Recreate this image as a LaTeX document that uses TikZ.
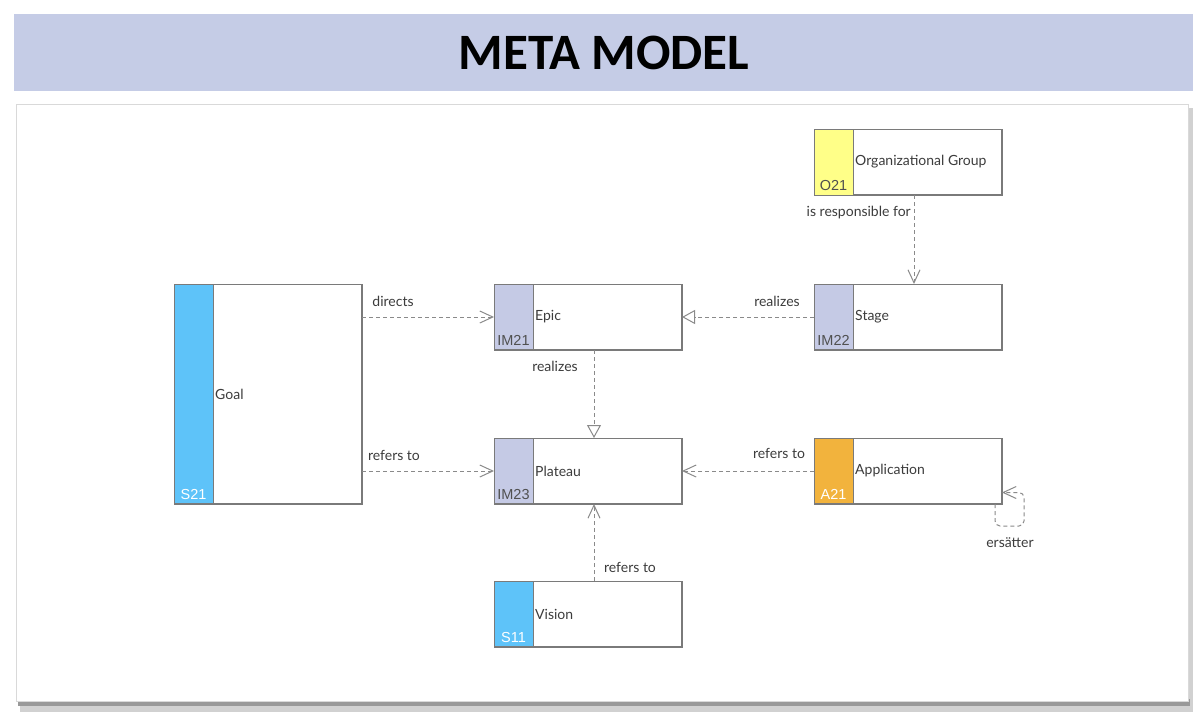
\documentclass[tikz,border=0pt]{standalone}
\usepackage{fontspec}
\setmainfont{Lato}
\newfontfamily\titlefont{Carlito}
\newfontfamily\codefont{Liberation Sans}
\usetikzlibrary{arrows.meta,calc}
\definecolor{band}{HTML}{C5CCE6}
\definecolor{imstrip}{HTML}{C5CAE5}
\definecolor{sblue}{HTML}{5EC3F9}
\definecolor{oyellow}{HTML}{FFFF88}
\definecolor{aorange}{HTML}{F2B33D}
\definecolor{edge}{HTML}{7A7A7A}
\definecolor{conn}{HTML}{8A8A8A}
\definecolor{txt}{HTML}{3C3C3C}
\tikzset{
  box/.style={draw=edge, line width=1pt, fill=white, anchor=north west, minimum width=187pt, minimum height=65pt, inner sep=0pt},
  lbl/.style={font=\fontsize{14}{16}\selectfont, text=txt, inner sep=0pt},
  code/.style={font=\codefont\fontsize{14.5}{16}\selectfont, inner sep=0pt, anchor=south},
  dep/.style={draw=conn, line width=1pt, dash pattern=on 4pt off 3pt},
  vtip/.style={-{Straight Barb[length=13pt, width=12pt, line width=1pt]}},
  ttip/.style={-{Triangle[open, length=13pt, width=14pt, line width=1pt, fill=white]}},
}
\begin{document}
\begin{tikzpicture}[x=1pt, y=-1pt]
\useasboundingbox (0,0) rectangle (1200,721);
\fill[white] (0,0) rectangle (1200,721);
% title band
\fill[band] (14,14) rectangle (1193,91);
\node[font=\titlefont\bfseries\fontsize{51}{56}\selectfont, inner sep=0pt] (title) at (604,53) {META MODEL};
% panel with shadow
\fill[black!18] (20,108) rectangle (1193,712);
\fill[black!40] (18,699) rectangle (1190,706);
\filldraw[fill=white, draw=black!15] (16,104) rectangle (1188,701);

% boxes
\node[box] (org) at (814,129) {};
\fill[oyellow] (org.north west) rectangle ++(39,66);
\draw[edge, line width=1pt] (org.north west) rectangle ++(39,66);
\draw[edge, line width=1pt] (org.north west) rectangle (org.south east);
\node[code, text=txt!90] at ($(org.south west)+(19.5,-4)$) {O21};
\node[lbl, anchor=west] at ($(org.west)+(41,0)$) {Organizational Group};

\node[box] (epic) at (494,284) {};
\fill[imstrip] (epic.north west) rectangle ++(39,65);
\draw[edge, line width=1pt] (epic.north west) rectangle ++(39,65);
\draw[edge, line width=1pt] (epic.north west) rectangle (epic.south east);
\node[code, text=txt!90] at ($(epic.south west)+(19.5,-4)$) {IM21};
\node[lbl, anchor=west] at ($(epic.west)+(41,0)$) {Epic};

\node[box] (stage) at (814,284) {};
\fill[imstrip] (stage.north west) rectangle ++(39,65);
\draw[edge, line width=1pt] (stage.north west) rectangle ++(39,65);
\draw[edge, line width=1pt] (stage.north west) rectangle (stage.south east);
\node[code, text=txt!90] at ($(stage.south west)+(19.5,-4)$) {IM22};
\node[lbl, anchor=west] at ($(stage.west)+(41,0)$) {Stage};

\node[box, minimum height=219pt] (goal) at (174,284) {};
\fill[sblue] (goal.north west) rectangle ++(39,219);
\draw[edge, line width=1pt] (goal.north west) rectangle ++(39,219);
\draw[edge, line width=1pt] (goal.north west) rectangle (goal.south east);
\node[code, text=white] at ($(goal.south west)+(19.5,-4)$) {S21};
\node[lbl, anchor=west] at ($(goal.west)+(41,0)$) {Goal};

\node[box] (plateau) at (494,438) {};
\fill[imstrip] (plateau.north west) rectangle ++(39,65);
\draw[edge, line width=1pt] (plateau.north west) rectangle ++(39,65);
\draw[edge, line width=1pt] (plateau.north west) rectangle (plateau.south east);
\node[code, text=txt!90] at ($(plateau.south west)+(19.5,-4)$) {IM23};
\node[lbl, anchor=west] at ($(plateau.west)+(41,0)$) {Plateau};

\node[box] (app) at (814,438) {};
\fill[aorange] (app.north west) rectangle ++(39,65);
\draw[edge, line width=1pt] (app.north west) rectangle ++(39,65);
\draw[edge, line width=1pt] (app.north west) rectangle (app.south east);
\node[code, text=white] at ($(app.south west)+(19.5,-4)$) {A21};
\node[lbl, anchor=west] at ($(app.west)+(41,0)$) {Application};

\node[box] (vision) at (494,581) {};
\fill[sblue] (vision.north west) rectangle ++(39,65);
\draw[edge, line width=1pt] (vision.north west) rectangle ++(39,65);
\draw[edge, line width=1pt] (vision.north west) rectangle (vision.south east);
\node[code, text=white] at ($(vision.south west)+(19.5,-4)$) {S11};
\node[lbl, anchor=west] at ($(vision.west)+(41,0)$) {Vision};

% connectors
\draw[dep, vtip] ($(org.south)+(6,0)$) -- ($(stage.north)+(6,0)$);
\node[lbl, anchor=east] (lresp) at (911,213) {is responsible for};

\draw[dep, vtip] (goal.east |- epic.west) -- (epic.west);
\node[lbl] (ldirects) at (393,301) {directs};

\draw[dep, ttip] (stage.west) -- (epic.east);
\node[lbl] (lreal1) at (777,301) {realizes};

\draw[dep, ttip] ($(epic.south)+(6,0)$) -- ($(plateau.north)+(6,0)$);
\node[lbl] (lreal2) at (555,366) {realizes};

\draw[dep, vtip] (goal.east |- plateau.west) -- (plateau.west);
\node[lbl] (lref1) at (394,455) {refers to};

\draw[dep, vtip] (app.west) -- (plateau.east);
\node[lbl] (lref2) at (779,453) {refers to};

\draw[dep, vtip] ($(vision.north)+(6,0)$) -- ($(plateau.south)+(6,0)$);
\node[lbl] (lref3) at (630,567) {refers to};

\coordinate (loopa) at ($(app.south east)+(-7,0)$);
\coordinate (loopb) at ($(app.east)+(0,21.5)$);
\draw[dep, vtip, rounded corners=5pt] (loopa) -- ++(0,22) -- ++(29,0) |- (loopb);
\node[lbl] (lrepl) at (1010,543) {ersätter};
\end{tikzpicture}
\end{document}
